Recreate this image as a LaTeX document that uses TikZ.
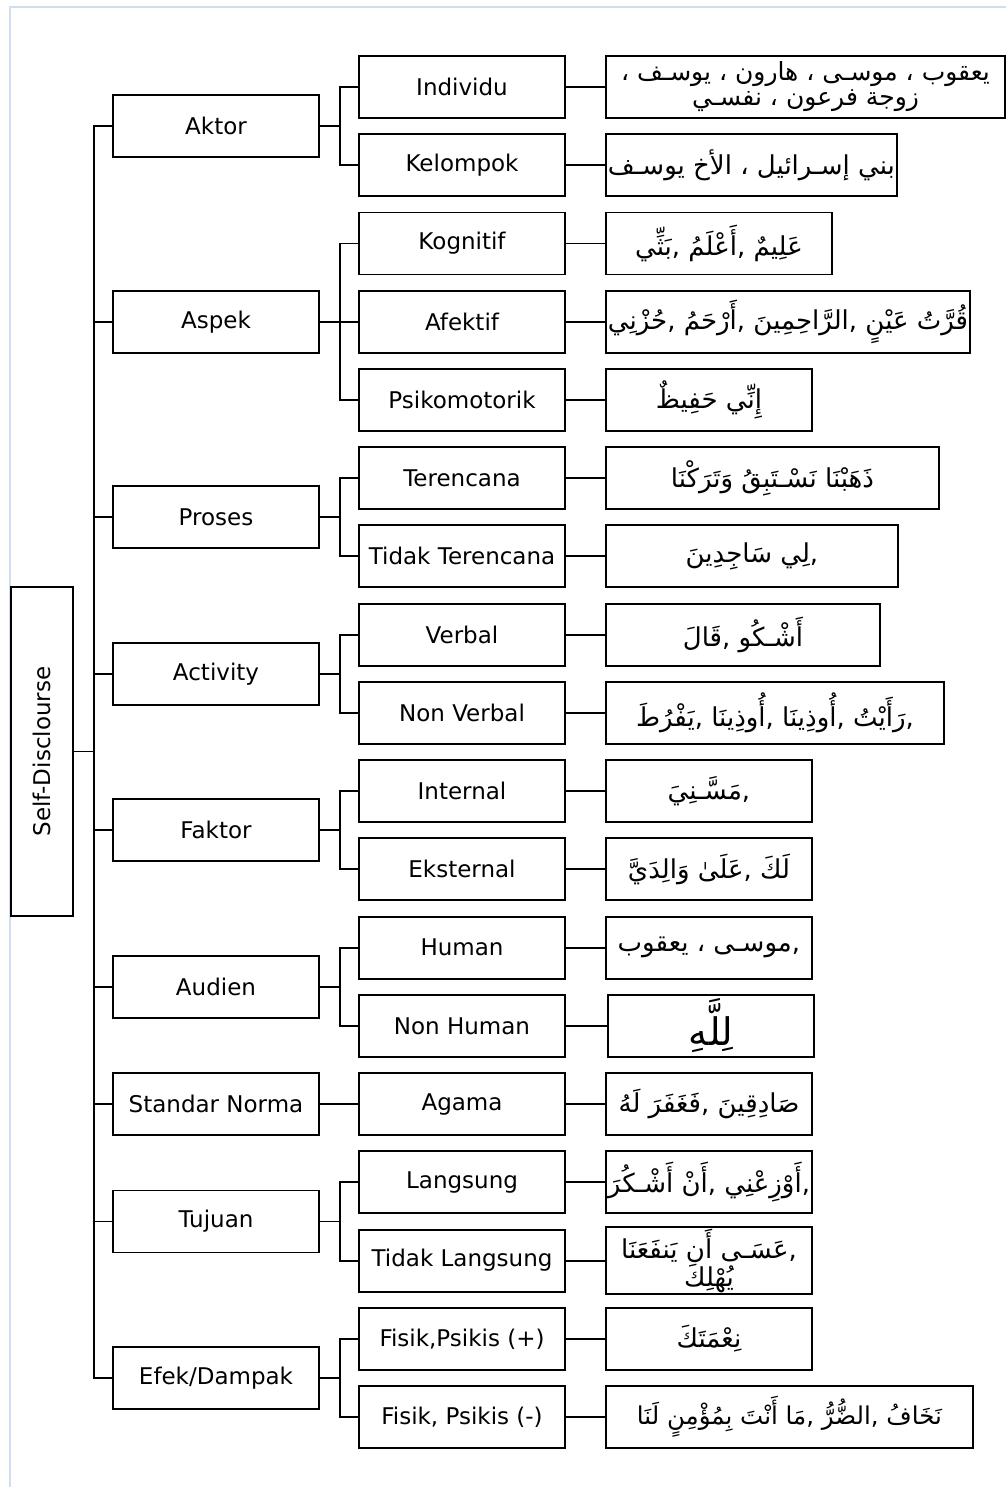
\documentclass[tikz,border=0pt]{standalone}
\usepackage{fontspec}
\setmainfont{DejaVu Sans}
\newfontfamily\arabicfont[Script=Arabic]{DejaVu Sans}
\TeXXeTstate=1
\usetikzlibrary{positioning}

\newcommand{\artext}[1]{{\arabicfont\beginR #1\endR}}

\tikzset{
  box/.style={draw, line width=1.9pt, minimum width=206, minimum height=62,
    inner sep=2pt, font=\fontsize{23}{27}\selectfont},
  leaf/.style={box, anchor=west, align=center, font=\fontsize{26}{26}\selectfont},
  link/.style={line width=1.9pt},
}

\begin{document}
\begin{tikzpicture}[x=1pt,y=-1pt]
  \useasboundingbox (0,0) rectangle (1006,1487);
  \draw[color={rgb,255:red,210;green,222;blue,240}, line width=1.2pt] (10,1487) -- (10,7) -- (1006,7);

  % root
  \node[box, rotate=90, minimum width=329] (root) at (42,751.5) {Self-Disclourse};

  % first level
  \node[box] (aktor)    at (216,126)    {Aktor};
  \node[box] (aspek)    at (216,321.7)  {Aspek};
  \node[box] (proses)   at (216,517.3)  {Proses};
  \node[box] (activity) at (216,673.8)  {Activity};
  \node[box] (faktor)   at (216,830.3)  {Faktor};
  \node[box] (audien)   at (216,986.8)  {Audien};
  \node[box] (standar)  at (216,1104.1) {Standar Norma};
  \node[box] (tujuan)   at (216,1221.5) {Tujuan};
  \node[box] (efek)     at (216,1378)   {Efek/Dampak};

  % second level
  \node[box] (individu)     at (462,87)     {Individu};
  \node[box] (kelompok)     at (462,165.2)  {Kelompok};
  \node[box] (kognitif)     at (462,243.5)  {Kognitif};
  \node[box] (afektif)      at (462,321.7)  {Afektif};
  \node[box] (psikomotorik) at (462,400)    {Psikomotorik};
  \node[box] (terencana)    at (462,478.2)  {Terencana};
  \node[box] (tdkrencana)   at (462,556.4)  {Tidak Terencana};
  \node[box] (verbal)       at (462,634.7)  {Verbal};
  \node[box] (nonverbal)    at (462,712.9)  {Non Verbal};
  \node[box] (internal)     at (462,791.2)  {Internal};
  \node[box] (eksternal)    at (462,869.4)  {Eksternal};
  \node[box] (human)        at (462,947.6)  {Human};
  \node[box] (nonhuman)     at (462,1025.9) {Non Human};
  \node[box] (agama)        at (462,1104.1) {Agama};
  \node[box] (langsung)     at (462,1182.4) {Langsung};
  \node[box] (tdklangsung)  at (462,1260.6) {Tidak Langsung};
  \node[box] (fisikplus)    at (462,1338.8) {Fisik,Psikis (+)};
  \node[box] (fisikminus)   at (462,1417.1) {Fisik, Psikis (-)};

  % third level (arabic examples)
  \node[leaf, minimum width=399, font=\fontsize{25}{25}\selectfont] (individuex) at (605,87)
    {\artext{يعقوب ، موسـى ، هارون ، يوسـف ،}\\\artext{زوجة فرعون ، نفسـي}};
  \node[leaf, minimum width=288] (kelompokex) at (605,165.2)
    {\artext{بني إسـرائيل ، الأخ يوسـف}};
  \node[leaf, minimum width=226] (kognitifex) at (605,243.5)
    {\artext{عَلِيمٌ ,أَعْلَمُ ,بَثِّي}};
  \node[leaf, minimum width=362] (afektifex) at (605,321.7)
    {\artext{قُرَّتُ عَيْنٍ ,الرَّاحِمِينَ ,أَرْحَمُ ,حُزْنِي}};
  \node[leaf] (psikomotorikex) at (605,400)
    {\artext{إِنِّي حَفِيظٌ}};
  \node[leaf, minimum width=333] (terencanaex) at (605,478.2)
    {\artext{ذَهَبْنَا نَسْـتَبِقُ وَتَرَكْنَا}};
  \node[leaf, minimum width=292] (tdkrencanaex) at (605,556.4)
    {\artext{,لِي سَاجِدِينَ}};
  \node[leaf, minimum width=274] (verbalex) at (605,634.7)
    {\artext{أَشْـكُو ,قَالَ}};
  \node[leaf, minimum width=338] (nonverbalex) at (605,712.9)
    {\artext{,رَأَيْتُ ,أُوذِينَا ,أُوذِينَا ,يَفْرُطَ}};
  \node[leaf] (internalex) at (605,791.2)
    {\artext{,مَسَّـنِيَ}};
  \node[leaf] (eksternalex) at (605,869.4)
    {\artext{لَكَ ,عَلَىٰ وَالِدَيَّ}};
  \node[leaf] (humanex) at (605,947.6)
    {\artext{,موسـى ، يعقوب}};
  \node[leaf, font=\fontsize{38}{38}\selectfont] (nonhumanex) at (607,1025.9)
    {\artext{لِلَّهِ}};
  \node[leaf] (agamaex) at (605,1104.1)
    {\artext{صَادِقِينَ ,فَغَفَرَ لَهُ}};
  \node[leaf] (langsungex) at (605,1182.4)
    {\artext{,أَوْزِعْنِي ,أَنْ أَشْـكُرَ}};
  \node[leaf, font=\fontsize{26}{25}\selectfont] (tdklangsungex) at (605,1260.6)
    {\artext{,عَسَـى أَن يَنفَعَنَا}\\\artext{يُهْلِكَ}};
  \node[leaf] (fisikplusex) at (605,1338.8)
    {\artext{نِعْمَتَكَ}};
  \node[leaf, minimum width=367, font=\fontsize{24.5}{25}\selectfont] (fisikminusex) at (605,1417.1)
    {\artext{نَخَافُ ,الضُّرُّ ,مَا أَنْتَ بِمُؤْمِنٍ لَنَا}};

  % trunk
  \foreach \n in {aktor,aspek,proses,activity,faktor,audien,standar,tujuan,efek}
    \draw[link] (root.south) -- ++(20,0) |- (\n.west);

  % brackets
  \foreach \p/\c in {aktor/individu,aktor/kelompok,
      aspek/kognitif,aspek/afektif,aspek/psikomotorik,
      proses/terencana,proses/tdkrencana,
      activity/verbal,activity/nonverbal,
      faktor/internal,faktor/eksternal,
      audien/human,audien/nonhuman,
      standar/agama,
      tujuan/langsung,tujuan/tdklangsung,
      efek/fisikplus,efek/fisikminus}
    \draw[link] (\p.east) -- ++(20,0) |- (\c.west);

  % examples
  \foreach \c in {individu,kelompok,kognitif,afektif,psikomotorik,terencana,
      tdkrencana,verbal,nonverbal,internal,eksternal,human,nonhuman,agama,
      langsung,tdklangsung,fisikplus,fisikminus}
    \draw[link] (\c.east) -- (\c ex.west);
\end{tikzpicture}
\end{document}
